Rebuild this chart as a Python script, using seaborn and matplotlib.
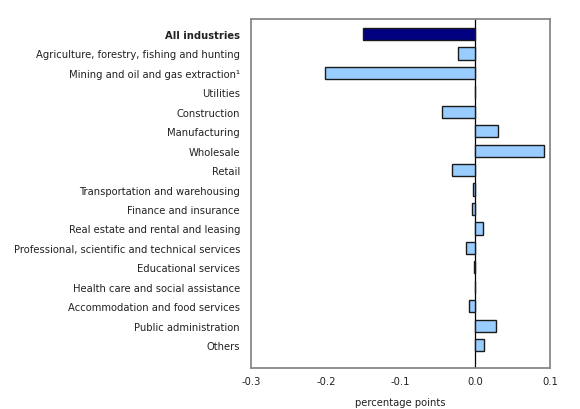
import matplotlib
matplotlib.use("Agg")
import matplotlib.pyplot as plt
import seaborn as sns
import pandas as pd

categories = [
    "All industries",
    "Agriculture, forestry, fishing and hunting",
    "Mining and oil and gas extraction\u00b9",
    "Utilities",
    "Construction",
    "Manufacturing",
    "Wholesale",
    "Retail",
    "Transportation and warehousing",
    "Finance and insurance",
    "Real estate and rental and leasing",
    "Professional, scientific and technical services",
    "Educational services",
    "Health care and social assistance",
    "Accommodation and food services",
    "Public administration",
    "Others",
]
values = [-0.150, -0.023, -0.201, 0.000, -0.044, 0.031, 0.092, -0.031,
          -0.003, -0.004, 0.010, -0.012, -0.001, 0.000, -0.008, 0.028, 0.012]
groups = ["total"] + ["industry"] * 16
x_ticks = [-0.3, -0.2, -0.1, 0.0, 0.1]
x_tick_labels = ["-0.3", "-0.2", "-0.1", "0.0", "0.1"]

df = pd.DataFrame({"category": categories, "value": values, "group": groups})

sns.set_style("white")
plt.rcParams["font.family"] = ["DejaVu Sans"]

fs = 7.2
fig = plt.figure(figsize=(5.8, 4.1), dpi=100)
ax = fig.add_axes([0.433, 0.10, 0.515, 0.851])

sns.barplot(data=df, x="value", y="category", hue="group", orient="h",
            palette={"total": "#000080", "industry": "#99CCFF"},
            saturation=1, dodge=False, width=0.63, edgecolor="#1a1a1a",
            linewidth=1.0, legend=False, ax=ax)

ax.axvline(0, color="#000000", linewidth=0.9, zorder=0.5)
ax.set_xlim(-0.3, 0.1)
ax.set_ylim(17.18, -0.77)
ax.set_xticks(x_ticks)
ax.set_xticklabels(x_tick_labels, fontsize=fs, color="#222222")
ax.tick_params(axis="x", direction="in", length=4, width=1.2, color="#333333", pad=6)
ax.tick_params(axis="y", length=0, pad=8)
for lbl in ax.get_yticklabels():
    lbl.set_fontsize(fs)
    lbl.set_color("#222222")
ax.get_yticklabels()[0].set_fontweight("bold")
ax.set_ylabel("")
ax.set_xlabel("percentage points", fontsize=fs, color="#222222", labelpad=8)
for s in ax.spines.values():
    s.set_visible(True)
    s.set_color("#888888")
    s.set_linewidth(1.3)

fig.savefig("out.png", dpi=100)
